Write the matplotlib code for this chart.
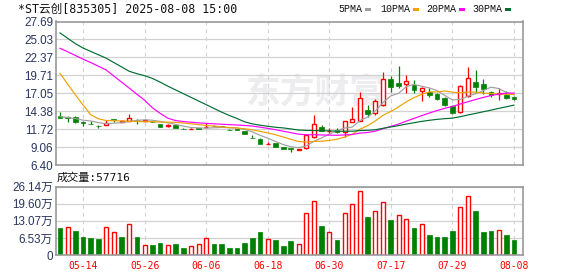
import numpy as np
import matplotlib
matplotlib.use('Agg')
import matplotlib.pyplot as plt
from matplotlib.patches import Rectangle

# ---------------- data ----------------
opens = [13.71, 13.47, 13.52, 12.70, 12.50, 12.22, 12.29, 13.23, 12.83, 12.98,
         13.10, 12.98, 12.83, 12.53, 12.25, 12.30, 11.80, 11.74, 11.82, 12.04,
         12.24, 12.19, 11.65, 11.74, 11.50, 10.40, 10.26, 9.49, 9.62, 9.07,
         8.90, 8.65, 8.87, 10.60, 12.04, 11.42, 11.59, 11.25, 12.73, 12.98,
         14.56, 14.07, 15.30, 19.16, 18.61, 18.37, 18.27, 17.45, 17.25, 16.93,
         16.36, 15.12, 14.26, 16.66, 18.71, 18.42, 17.28, 16.95, 16.78, 16.44]
highs = [14.22, 13.72, 13.67, 12.93, 13.00, 12.33, 13.13, 13.23, 13.03, 13.92,
         13.23, 13.10, 12.90, 12.53, 12.48, 12.34, 11.89, 11.94, 11.85, 12.58,
         12.28, 12.24, 11.79, 11.74, 11.50, 10.85, 10.36, 9.76, 9.66, 9.12,
         8.95, 8.75, 11.00, 13.77, 12.33, 11.94, 11.94, 12.88, 15.06, 17.23,
         15.35, 16.24, 20.15, 19.60, 21.13, 19.75, 19.01, 18.02, 17.77, 17.10,
         16.54, 15.30, 18.27, 20.95, 20.49, 19.13, 17.43, 17.78, 17.38, 16.67]
lows = [13.42, 12.73, 12.63, 12.14, 12.43, 11.94, 12.29, 12.73, 12.73, 12.98,
        12.53, 12.95, 12.75, 12.04, 12.09, 11.92, 11.74, 11.74, 11.75, 11.89,
        12.15, 11.99, 11.60, 11.55, 11.05, 10.36, 9.47, 9.47, 9.02, 8.83,
        8.30, 8.63, 8.73, 10.41, 11.40, 11.10, 11.10, 10.60, 12.73, 12.98,
        13.57, 13.82, 15.20, 17.20, 17.80, 17.03, 17.13, 15.94, 16.54, 16.04,
        15.15, 13.97, 14.16, 16.54, 17.10, 17.00, 16.44, 16.04, 16.19, 15.98]
closes = [13.42, 13.40, 12.73, 12.68, 12.43, 12.18, 12.68, 13.08, 12.94, 13.37,
          13.05, 13.08, 12.78, 12.09, 12.29, 11.95, 11.74, 11.80, 11.79, 12.09,
          12.19, 11.99, 11.60, 11.55, 11.05, 10.36, 9.47, 9.52, 9.02, 8.83,
          8.70, 8.75, 10.85, 12.43, 11.40, 11.47, 11.25, 12.88, 13.18, 16.29,
          13.97, 15.85, 19.16, 18.02, 18.17, 18.91, 17.53, 17.80, 16.78, 16.19,
          15.32, 14.18, 18.12, 19.26, 17.97, 17.65, 16.72, 17.15, 16.29, 16.25]
volumes = [103000, 106000, 92000, 69000, 65000, 61000, 106000, 87000, 69000, 117000,
           69000, 37000, 38000, 46000, 37000, 42000, 27000, 33000, 41000, 64000,
           42000, 42000, 27000, 27000, 46000, 65000, 88000, 60000, 57000, 34000,
           54000, 41000, 160000, 205000, 111000, 87000, 57000, 160000, 194000, 244000,
           145000, 167000, 202000, 134000, 152000, 137000, 103000, 117000, 77000, 69000,
           69000, 92000, 182000, 226000, 168000, 88000, 92000, 94000, 77000, 57716]
vol_up = [0, 1, 0, 0, 0, 0, 1, 1, 0, 1,
          0, 1, 0, 0, 1, 0, 0, 1, 1, 1,
          0, 0, 0, 0, 0, 0, 0, 1, 0, 0,
          0, 1, 1, 1, 0, 1, 0, 1, 1, 1,
          0, 1, 1, 0, 1, 1, 0, 1, 0, 0,
          0, 0, 1, 1, 0, 0, 0, 1, 0, 0]

# moving-average values before the window is filled
ma5_head = [13.57, 13.45, 13.28, 13.05]
ma10_head = [20.00, 18.40, 16.80, 15.30, 13.85, 13.25, 13.00, 12.98, 12.93]
ma20_head = [23.71, 23.20, 22.65, 22.10, 21.60, 21.05, 20.50, 19.60, 18.70, 17.80,
             16.90, 16.00, 14.90, 14.07, 13.35, 13.00, 12.85, 12.75, 12.65]
ma30_head = [26.00, 25.20, 24.40, 23.75, 23.25, 22.75, 22.25, 21.60, 20.95, 20.30,
             19.95, 19.65, 19.25, 18.70, 18.10, 17.55, 17.00, 16.45, 15.90, 15.35,
             14.80, 14.25, 13.75, 13.30, 12.80, 12.50, 12.30, 12.15, 12.00]

tick_idx = [3, 11, 19, 27, 35, 43, 51, 59]
tick_labels = ['05-14', '05-26', '06-06', '06-18', '06-30', '07-17', '07-29', '08-08']
price_ticks = [6.40, 9.06, 11.72, 14.38, 17.05, 19.71, 22.37, 25.03, 27.69]
vol_ticks = [0, 65350, 130700, 196050, 261400]
vol_tick_labels = ['0', '6.53万', '13.07万', '19.60万', '26.14万']

title = '*ST云创[835305] 2025-08-08 15:00'
ma_names = ['5PMA', '10PMA', '20PMA', '30PMA']
ma_colors = ['#a0a0a0', '#f0a000', '#ff00ff', '#006e33']

RED = '#ff0000'
GREEN = '#008000'
NAVY = '#2a3560'
GRID = '#d2d2d2'
SPINE = '#999999'


def moving(head, w):
    c = np.array(closes)
    tail = [c[i - w + 1:i + 1].mean() for i in range(w - 1, len(c))]
    return np.array(list(head) + tail)


mas = [moving(ma5_head, 5), moving(ma10_head, 10), moving(ma20_head, 20), moving(ma30_head, 30)]

# ---------------- figure ----------------
W, H = 578, 276
fig = plt.figure(figsize=(W / 100, H / 100), dpi=100)
fig.patch.set_facecolor('white')

def frac_box(l, t, r, b):
    return [l / W, 1 - b / H, (r - l) / W, (b - t) / H]

ax = fig.add_axes(frac_box(56, 21.5, 522.7, 165))
axv = fig.add_axes(frac_box(56, 186.7, 522.7, 255))

x = np.arange(len(closes))
o = np.array(opens); h = np.array(highs); l = np.array(lows); c = np.array(closes)
up = c > o
body_lo = np.minimum(o, c)
body_hi = np.maximum(o, c)
body_h = np.maximum(np.abs(c - o), 0.05)
bw = 0.62

for a in (ax, axv):
    a.set_xlim(-0.52, 60.13)
    a.set_axisbelow(True)
    for s in a.spines.values():
        s.set_color(SPINE)
        s.set_linewidth(1.2)
    a.set_xticks(tick_idx)
    a.xaxis.grid(True, color=GRID, linestyle=(0, (3.5, 3.5)), linewidth=0.8)
    a.yaxis.grid(True, color=GRID, linestyle='-', linewidth=0.9)
    a.tick_params(length=0, pad=2.2)

# watermark
ax.text(0.555, 0.51, '东方财富', transform=ax.transAxes, fontsize=25,
        color='#ededf0', fontweight='bold', family='Noto Sans CJK SC',
        ha='center', va='center', zorder=0.5)

# wicks
cols = np.where(up, RED, GREEN)
ax.vlines(x, body_hi, h, colors=cols, linewidth=0.9, zorder=2)
ax.vlines(x, l, body_lo, colors=cols, linewidth=0.9, zorder=2)
# bodies
ax.bar(x[~up], body_h[~up], bottom=body_lo[~up], width=bw, color=GREEN,
       edgecolor=GREEN, linewidth=0.5, zorder=2.2)
ax.bar(x[up], body_h[up], bottom=body_lo[up], width=bw - 0.1, facecolor='white',
       edgecolor=RED, linewidth=1.0, zorder=2.2)

for m, col in zip(mas, ma_colors):
    ax.plot(x, m, color=col, linewidth=0.85, zorder=3)

ax.set_ylim(6.40, 27.69)
ax.set_yticks(price_ticks)
ax.set_yticklabels([f'{t:.2f}' for t in price_ticks], family='Liberation Sans',
                   fontsize=8.4, color=NAVY)
ax.set_xticklabels([])

# volume
v = np.array(volumes, dtype=float)
vu = np.array(vol_up, dtype=bool)
axv.bar(x[~vu], v[~vu], width=bw, color=GREEN, edgecolor=GREEN, linewidth=0.5, zorder=2)
axv.bar(x[vu], v[vu], width=bw - 0.1, facecolor='white', edgecolor=RED,
        linewidth=1.0, zorder=2)
axv.set_ylim(0, 261400)
axv.set_yticks(vol_ticks)
axv.set_yticklabels(vol_tick_labels, family=['Liberation Sans', 'Noto Sans CJK SC'],
                    fontsize=8.4, color=NAVY)
axv.set_xticklabels(tick_labels, family='DejaVu Sans Mono', fontsize=7, color=RED)
axv.tick_params(axis='x', pad=4)

# title & legend
fig.text(18 / W, 1 - 9 / H, title, family=['DejaVu Sans Mono', 'Noto Sans CJK SC'],
         fontsize=8.4, va='center', ha='left', color='#111111')
leg_x = [338, 380, 426, 472]
sw_x = [365, 413, 459, 505]
for name, col, tx, sx in zip(ma_names, ma_colors, leg_x, sw_x):
    fig.text(tx / W, 1 - 9 / H, name, family='Liberation Mono', fontsize=7.2,
             va='center', ha='left', color='#111111')
    fig.patches.append(Rectangle((sx / W, 1 - 11 / H), 6 / W, 3 / H,
                                 transform=fig.transFigure, facecolor=col,
                                 edgecolor='none'))

fig.text(57 / W, 1 - 177.7 / H, f'成交量:{volumes[-1]}',
         family=['DejaVu Sans Mono', 'Noto Sans CJK SC'], fontsize=8,
         va='center', ha='left', color='#111111')

fig.savefig('out.png', dpi=100)
